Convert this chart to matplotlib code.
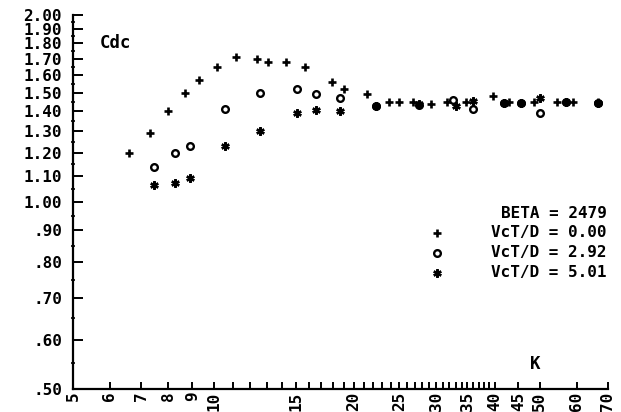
import matplotlib
matplotlib.use("Agg")
import matplotlib.pyplot as plt
from matplotlib.ticker import FixedLocator, FixedFormatter, NullFormatter

# ---- data ----
K_plus = [6.6, 7.3, 8.0, 8.7, 9.3, 10.15, 11.2, 12.4, 13.1, 14.3, 15.7, 17.9, 19.0,
          21.3, 23.8, 25.0, 26.7, 29.2, 31.6, 34.7, 39.6, 43.0, 48.5, 54.3, 58.9, 66.6]
Cdc_plus = [1.20, 1.29, 1.40, 1.50, 1.57, 1.65, 1.71, 1.70, 1.68, 1.68, 1.65, 1.56, 1.52,
            1.49, 1.45, 1.45, 1.45, 1.44, 1.45, 1.45, 1.48, 1.45, 1.45, 1.45, 1.45, 1.45]

K_circ = [7.45, 8.25, 8.9, 10.6, 12.6, 15.1, 16.6, 18.7, 22.3, 27.5, 32.6, 36.0,
          41.9, 45.5, 50.0, 57.0, 66.6]
Cdc_circ = [1.14, 1.20, 1.23, 1.41, 1.50, 1.52, 1.49, 1.47, 1.43, 1.435, 1.46, 1.41,
            1.445, 1.445, 1.39, 1.45, 1.445]

K_star = [7.45, 8.25, 8.9, 10.6, 12.6, 15.1, 16.6, 18.7, 22.3, 27.5, 33.0, 36.0,
          41.9, 45.5, 50.0, 57.0, 66.6]
Cdc_star = [1.065, 1.072, 1.095, 1.23, 1.30, 1.39, 1.405, 1.40, 1.43, 1.44, 1.43, 1.455,
            1.445, 1.445, 1.47, 1.45, 1.445]

x_major = [5, 6, 7, 8, 9, 10, 15, 20, 25, 30, 35, 40, 45, 50, 60, 70]
x_labels = ["5", "6", "7", "8", "9", "10", "15", "20", "25", "30", "35", "40", "45", "50", "60", "70"]
x_minor = [11, 12, 13, 14, 16, 17, 18, 19, 21, 22, 23, 24, 26, 27, 28, 29,
           31, 32, 33, 34, 36, 37, 38, 39]
y_major = [0.5, 0.6, 0.7, 0.8, 0.9, 1.0, 1.1, 1.2, 1.3, 1.4, 1.5, 1.6, 1.7, 1.8, 1.9, 2.0]
y_labels = [".50", ".60", ".70", ".80", ".90", "1.00", "1.10", "1.20", "1.30", "1.40",
            "1.50", "1.60", "1.70", "1.80", "1.90", "2.00"]
y_minor = [0.55, 0.65, 0.75, 0.85, 0.95, 1.05, 1.15, 1.25, 1.35, 1.45, 1.55, 1.65,
           1.75, 1.85, 1.95]

legend_lines = ["BETA = 2479", "VcT/D = 0.00", "VcT/D = 2.92", "VcT/D = 5.01"]

FONT = "DejaVu Sans Mono"
FS = 11.5

fig = plt.figure(figsize=(6.21, 4.12), dpi=100)
ax = fig.add_axes([73/621, 23/412, 535/621, 374/412])

plus_style = dict(ls="none", marker="+", ms=6, mew=1.9, color="black")
circ_style = dict(ls="none", marker="o", ms=4.8, mew=1.7, mfc="white", mec="black")
star_style = dict(ls="none", marker=(6, 2, 0), ms=6, mew=1.7, color="black")

ax.plot(K_plus, Cdc_plus, **plus_style)
ax.plot(K_circ, Cdc_circ, **circ_style)
ax.plot(K_star, Cdc_star, **star_style)

ax.set_xscale("log")
ax.set_yscale("log")
ax.set_xlim(5, 70)
ax.set_ylim(0.5, 2.0)

ax.xaxis.set_major_locator(FixedLocator(x_major))
ax.xaxis.set_major_formatter(FixedFormatter(x_labels))
ax.xaxis.set_minor_locator(FixedLocator(x_minor))
ax.xaxis.set_minor_formatter(NullFormatter())
ax.yaxis.set_major_locator(FixedLocator(y_major))
ax.yaxis.set_major_formatter(FixedFormatter(y_labels))
ax.yaxis.set_minor_locator(FixedLocator(y_minor))
ax.yaxis.set_minor_formatter(NullFormatter())

for s in ["top", "right"]:
    ax.spines[s].set_visible(False)
for s in ["left", "bottom"]:
    ax.spines[s].set_linewidth(1.6)

ax.tick_params(axis="x", which="both", direction="in", length=5, width=1.4, pad=2)
ax.tick_params(axis="y", which="major", direction="in", length=7, width=1.4, pad=8)
ax.tick_params(axis="y", which="minor", direction="inout", length=3, width=1.2)

for lab in ax.get_xticklabels():
    lab.set_rotation(90)
    lab.set_fontfamily(FONT)
    lab.set_fontweight("bold")
    lab.set_fontsize(FS)
    lab.set_va("top")
for lab in ax.get_yticklabels():
    lab.set_fontfamily(FONT)
    lab.set_fontweight("bold")
    lab.set_fontsize(FS)

ax.text((100-73)/535, (389-43)/374, "Cdc", transform=ax.transAxes, ha="left", va="center",
        fontfamily=FONT, fontweight="bold", fontsize=FS + 1)
ax.text((535-73)/535, (389-364)/374, "K", transform=ax.transAxes, ha="center", va="center",
        fontfamily=FONT, fontweight="bold", fontsize=FS + 1)

leg_y = [(389-213)/374, (389-233)/374, (389-253)/374, (389-273)/374]
for t, yy in zip(legend_lines, leg_y):
    ax.text(0.998, yy, t, transform=ax.transAxes, ha="right", va="center",
            fontfamily=FONT, fontweight="bold", fontsize=FS)
mx = (437-73)/535
ax.plot([mx], [leg_y[1]], transform=ax.transAxes, clip_on=False, **plus_style)
ax.plot([mx], [leg_y[2]], transform=ax.transAxes, clip_on=False, **circ_style)
ax.plot([mx], [leg_y[3]], transform=ax.transAxes, clip_on=False, **star_style)

fig.savefig("out.png", dpi=100)
